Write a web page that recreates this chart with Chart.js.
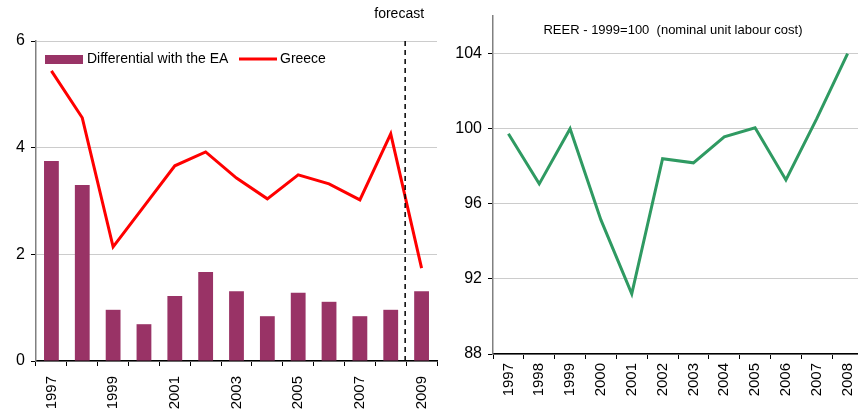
<!DOCTYPE html>
<html>
<head>
<meta charset="utf-8">
<script src="https://cdn.jsdelivr.net/npm/chart.js@4.4.0/dist/chart.umd.min.js"></script>
<style>
  html, body { margin: 0; background: #fff; overflow: hidden; width: 858px; height: 412px; }
  #left { position: absolute; left: 0; top: 0; }
  #right { position: absolute; left: 440px; top: 0; }
</style>
</head>
<body>
<canvas id="left" width="440" height="412"></canvas>
<canvas id="right" width="423" height="412"></canvas>
<script>
// left panel: inflation, Greece vs differential with euro area
const years = ['1997','1998','1999','2000','2001','2002','2003','2004','2005','2006','2007','2008','2009'];
const differential = [3.75, 3.30, 0.96, 0.69, 1.22, 1.67, 1.31, 0.84, 1.28, 1.11, 0.84, 0.96, 1.31];
const greece = [5.44, 4.56, 2.14, 2.90, 3.66, 3.92, 3.43, 3.04, 3.49, 3.32, 3.02, 4.26, 1.74];
const leftTicks = [0, 2, 4, 6];

// right panel: REER 1999=100
const reerYears = ['1997','1998','1999','2000','2001','2002','2003','2004','2005','2006','2007','2008'];
const reer = [99.73, 97.06, 100.0, 95.14, 91.2, 98.4, 98.18, 99.57, 100.05, 97.27, 100.53, 104.0];
const rightTicks = [88, 92, 96, 100, 104];

const FONT = 'Arial, "Liberation Sans", sans-serif';
const barColor = '#993366';
const lineColor = '#ff0000';
const reerColor = '#2f9a62';

Chart.defaults.font.family = FONT;
Chart.defaults.color = '#000';

const insideLegend = {
  id: 'insideLegend',
  afterDraw(chart) {
    const ctx = chart.ctx;
    const ds = chart.data.datasets;
    ctx.save();
    ctx.font = '14px ' + FONT;
    ctx.textBaseline = 'middle';
    ctx.fillStyle = barColor;
    ctx.fillRect(45, 55, 38, 9);
    ctx.fillStyle = '#000';
    ctx.fillText(ds[0].label, 87, 59);
    ctx.strokeStyle = lineColor;
    ctx.lineWidth = 3;
    ctx.beginPath();
    ctx.moveTo(239, 59);
    ctx.lineTo(277, 59);
    ctx.stroke();
    ctx.fillText(ds[1].label, 280, 59);
    ctx.restore();
  }
};

const forecastLine = {
  id: 'forecastLine',
  afterDatasetsDraw(chart) {
    const x = chart.scales.x;
    const area = chart.chartArea;
    const px = (x.getPixelForValue(11) + x.getPixelForValue(12)) / 2 - 1;
    const ctx = chart.ctx;
    ctx.save();
    ctx.strokeStyle = '#000';
    ctx.lineWidth = 1.5;
    ctx.setLineDash([5, 4]);
    ctx.beginPath();
    ctx.moveTo(px, area.top);
    ctx.lineTo(px, area.bottom);
    ctx.stroke();
    ctx.setLineDash([]);
    ctx.font = '14px ' + FONT;
    ctx.textAlign = 'center';
    ctx.textBaseline = 'middle';
    ctx.fillStyle = '#000';
    ctx.fillText('forecast', px - 6, 14);
    ctx.restore();
  }
};

// keep the plot area fixed: no label overhang padding on the category axis
const fixX = h => s => { s.height = h; s.paddingLeft = 0; s.paddingRight = 0; };

new Chart(document.getElementById('left'), {
  type: 'bar',
  data: {
    labels: years,
    datasets: [
      {
        type: 'bar',
        label: 'Differential with the EA',
        data: differential,
        backgroundColor: barColor,
        categoryPercentage: 1,
        barPercentage: 0.48,
        order: 2
      },
      {
        type: 'line',
        label: 'Greece',
        data: greece,
        borderColor: lineColor,
        borderWidth: 3,
        pointRadius: 0,
        tension: 0,
        order: 1
      }
    ]
  },
  options: {
    responsive: false,
    animation: false,
    devicePixelRatio: 1,
    layout: { padding: { top: 41, right: 3, left: 0, bottom: 0 } },
    plugins: { legend: { display: false }, tooltip: { enabled: false } },
    scales: {
      x: {
        afterFit: fixX(51),
        grid: { drawOnChartArea: false, drawTicks: true, tickLength: 5, tickColor: '#000', offset: true },
        border: { color: '#000', width: 1.5 },
        ticks: {
          autoSkip: false,
          maxRotation: 90,
          minRotation: 90,
          padding: 10,
          font: { size: 15 },
          callback: (v, i) => (i % 2 === 0 ? years[i] : '')
        }
      },
      y: {
        min: 0,
        max: 6,
        afterFit: s => { s.width = 36; s.paddingTop = 0; s.paddingBottom = 0; },
        afterBuildTicks: s => { s.ticks = leftTicks.map(v => ({ value: v })); },
        grid: { color: '#cccccc', tickLength: 5, tickColor: '#000' },
        border: { color: '#808080', width: 1.5 },
        ticks: { padding: 6, font: { size: 16 } }
      }
    }
  },
  plugins: [insideLegend, forecastLine]
});

const reerTitle = {
  id: 'reerTitle',
  afterDraw(chart) {
    const ctx = chart.ctx;
    ctx.save();
    ctx.font = '13px ' + FONT;
    ctx.textAlign = 'center';
    ctx.textBaseline = 'middle';
    ctx.fillStyle = '#000';
    ctx.fillText('REER - 1999=100  (nominal unit labour cost)', 233, 30);
    ctx.restore();
  }
};

new Chart(document.getElementById('right'), {
  type: 'line',
  data: {
    labels: reerYears,
    datasets: [{
      label: 'REER',
      data: reer,
      borderColor: reerColor,
      borderWidth: 3,
      pointRadius: 0,
      tension: 0
    }]
  },
  options: {
    responsive: false,
    animation: false,
    devicePixelRatio: 1,
    layout: { padding: { top: 16, right: 0, left: 0, bottom: 0 } },
    plugins: { legend: { display: false }, tooltip: { enabled: false } },
    scales: {
      x: {
        offset: true,
        afterFit: fixX(58),
        grid: { drawOnChartArea: false, drawTicks: true, tickLength: 5, tickColor: '#000', offset: true },
        border: { color: '#000', width: 1.5 },
        ticks: { autoSkip: false, maxRotation: 90, minRotation: 90, padding: 4, font: { size: 15 } }
      },
      y: {
        min: 88,
        max: 106,
        afterFit: s => { s.width = 53; s.paddingTop = 0; s.paddingBottom = 0; },
        afterBuildTicks: s => { s.ticks = rightTicks.map(v => ({ value: v })); },
        grid: { color: '#cccccc', tickLength: 5, tickColor: '#000' },
        border: { color: '#808080', width: 1.5 },
        ticks: { padding: 6, font: { size: 16 } }
      }
    }
  },
  plugins: [reerTitle]
});
</script>
</body>
</html>
